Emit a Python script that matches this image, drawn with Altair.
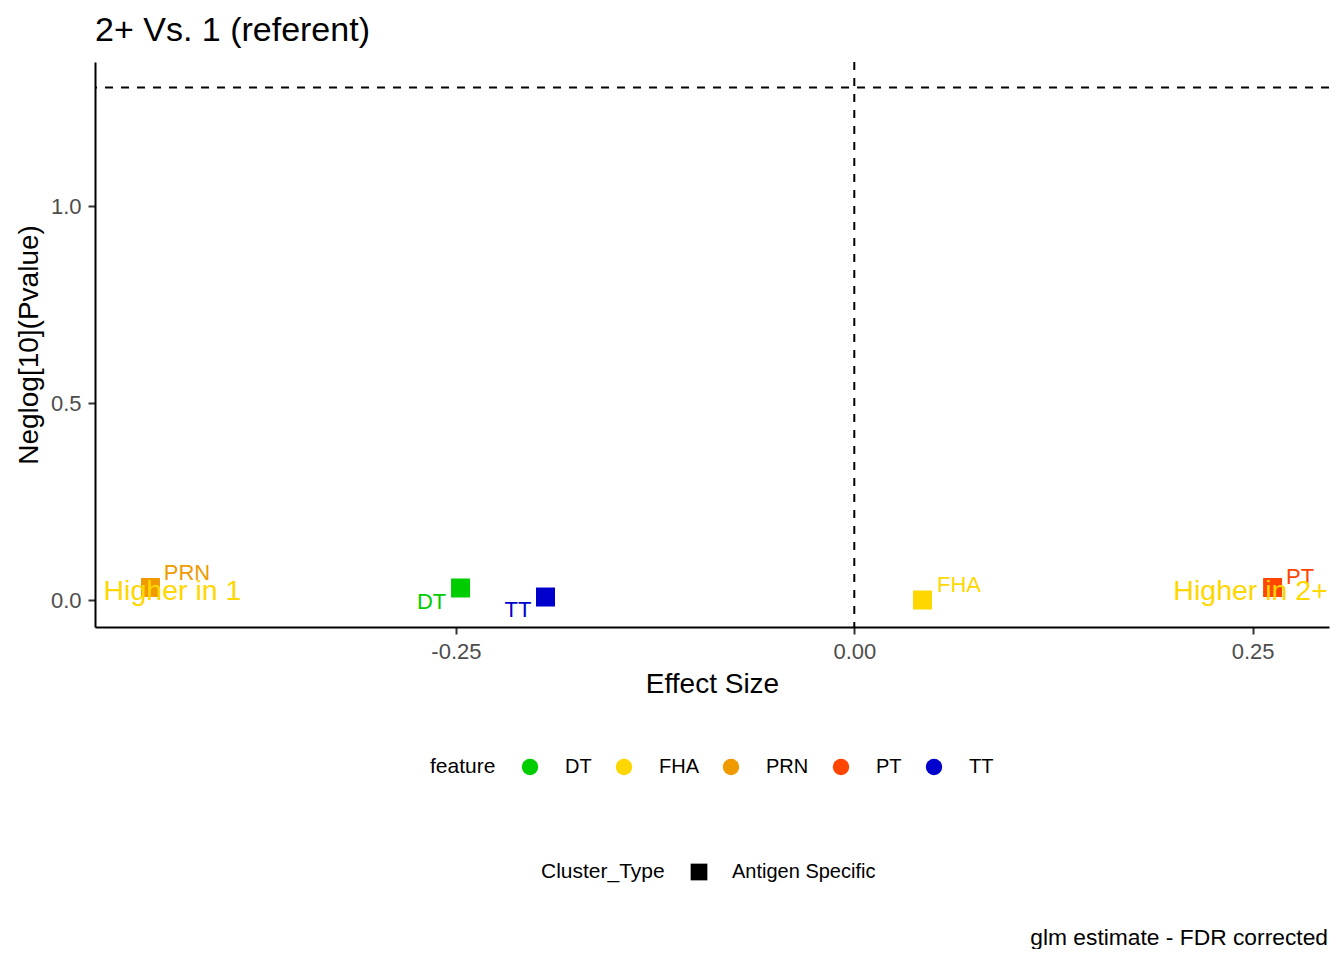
import altair as alt
import pandas as pd

FONT = "Liberation Sans"

# ---- data ----
features = ["DT", "FHA", "PRN", "PT", "TT"]
effect_size = [-0.2471, 0.0428, -0.4417, 0.2625, -0.1938]
neglog_p = [0.0305, 0.0, 0.0317, 0.0317, 0.0076]
cluster_type = ["Antigen Specific"] * 5
feature_colors = ["#00CD00", "#FFD700", "#EE9A00", "#FF4500", "#0000CD"]

annot_text = ["Higher in 1", "Higher in 2+"]
annot_x = [-0.4279, 0.2487]
annot_y = [0.0, 0.0]

sig_line = [1.301]      # -log10(0.05)
zero_line = [0.0]

x_ticks = [-0.25, 0.0, 0.25]
y_ticks = [0.0, 0.5, 1.0]
x_domain = [-0.4765, 0.2979]
y_domain = [-0.0685, 1.3655]

caption = "glm estimate - FDR corrected"

df = pd.DataFrame({
    "feature": features,
    "effect": effect_size,
    "neglog": neglog_p,
    "Cluster_Type": cluster_type,
})

# label offsets (ggrepel placement), in pixels
label_offsets = {
    "DT": (-29, 14),
    "FHA": (36.5, -15.5),
    "PRN": (36.5, -14.5),
    "PT": (27.5, -11),
    "TT": (-27.5, 12.5),
}

xs = alt.Scale(domain=x_domain, nice=False, zero=False)
ys = alt.Scale(domain=y_domain, nice=False, zero=False)
cs = alt.Scale(domain=features, range=feature_colors)

x_enc = alt.X(
    "effect:Q", scale=xs, title="Effect Size",
    axis=alt.Axis(values=x_ticks,
                  labelExpr="replace(format(datum.value, '.2f'), '\u2212', '-')"),
)
y_enc = alt.Y(
    "neglog:Q", scale=ys, title="Neglog[10](Pvalue)",
    axis=alt.Axis(values=y_ticks, format=".1f"),
)

vline = alt.Chart(pd.DataFrame({"effect": zero_line})).mark_rule(
    strokeDash=[8, 8], strokeWidth=2, color="black"
).encode(x=alt.X("effect:Q", scale=xs))

hline = alt.Chart(pd.DataFrame({"neglog": sig_line})).mark_rule(
    strokeDash=[8, 8], strokeWidth=2, color="black"
).encode(y=alt.Y("neglog:Q", scale=ys))

points = alt.Chart(df).mark_point(
    filled=True, size=361, opacity=1, strokeWidth=0
).encode(
    x=x_enc,
    y=y_enc,
    color=alt.Color(
        "feature:N", scale=cs, title="feature",
        legend=alt.Legend(
            orient="none", legendX=335, legendY=695, direction="horizontal",
            titleOrient="left", titlePadding=24, titleFontSize=21,
            titleFontWeight="normal", titleFont=FONT, titleColor="black",
            titleBaseline="middle", titleAnchor="middle",
            labelFont=FONT, labelFontSize=20, labelColor="black",
            labelOffset=25, columnPadding=22,
            symbolType="circle", symbolSize=270, symbolStrokeWidth=0,
            symbolOpacity=1,
        ),
    ),
    shape=alt.Shape(
        "Cluster_Type:N",
        scale=alt.Scale(domain=["Antigen Specific"], range=["square"]),
        title="Cluster_Type",
        legend=alt.Legend(
            orient="none", legendX=446, legendY=800, direction="horizontal",
            titleOrient="left", titlePadding=24, titleFontSize=21,
            titleFontWeight="normal", titleFont=FONT, titleColor="black",
            titleBaseline="middle", titleAnchor="middle",
            labelFont=FONT, labelFontSize=20, labelColor="black",
            labelOffset=23,
            symbolSize=280, symbolFillColor="black", symbolStrokeColor="black",
            symbolStrokeWidth=0, symbolOpacity=1,
        ),
    ),
)

labels = []
for i, f in enumerate(features):
    dx, dy = label_offsets[f]
    labels.append(
        alt.Chart(df).transform_filter(alt.datum.feature == f).mark_text(
            font=FONT, fontSize=22, dx=dx, dy=dy, baseline="middle",
            align="center", color=feature_colors[i]
        ).encode(x=alt.X("effect:Q", scale=xs), y=alt.Y("neglog:Q", scale=ys),
                 text="feature:N")
    )

annot = alt.Chart(pd.DataFrame({"effect": annot_x, "neglog": annot_y, "t": annot_text})).mark_text(
    font=FONT, fontSize=28.5, baseline="alphabetic", align="center", color="#FFD700"
).encode(x=alt.X("effect:Q", scale=xs), y=alt.Y("neglog:Q", scale=ys), text="t:N")

cap = alt.Chart(pd.DataFrame({"t": [caption]})).mark_text(
    font=FONT, fontSize=22.8, align="right", baseline="alphabetic", color="black"
).encode(x=alt.value(1233), y=alt.value(883), text="t:N")

chart = alt.layer(vline, hline, points, *labels, annot, cap).properties(
    width=1234, height=565,
    title=alt.TitleParams(
        "2+ Vs. 1 (referent)", anchor="start", frame="group", fontSize=34,
        fontWeight="normal", font=FONT, color="black", offset=13,
    ),
    padding={"left": 87, "top": 54, "right": 5, "bottom": 322},
    autosize=alt.AutoSizeParams(type="none"),
).configure_view(stroke=None).configure_axis(
    grid=False, domainColor="black", domainWidth=2, tickColor="#333333",
    tickWidth=2, tickSize=7, labelFont=FONT, labelFontSize=22,
    labelColor="#4D4D4D", titleFont=FONT, titleFontSize=28,
    titleFontWeight="normal", titleColor="black",
).configure_axisX(labelPadding=7, titlePadding=8).configure_axisY(
    labelPadding=7, titlePadding=7
)

chart.save("out.html", embed_options={"renderer": "svg", "actions": False})
